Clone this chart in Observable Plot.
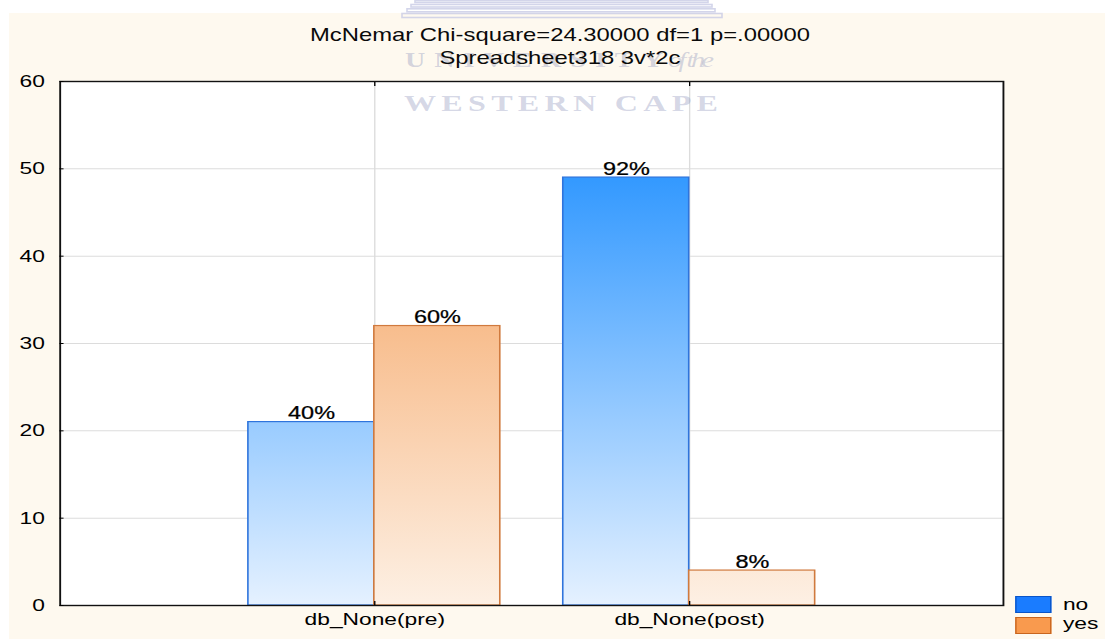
<!DOCTYPE html>
<html><head><meta charset="utf-8">
<script src="https://cdn.jsdelivr.net/npm/d3@7"></script>
<script src="https://cdn.jsdelivr.net/npm/@observablehq/plot@0.6"></script>
<style>
html,body{margin:0;padding:0;background:#fff;width:1105px;height:639px;overflow:hidden;font-family:"Liberation Sans",Arial,sans-serif;}
#chart{position:absolute;left:9px;top:13px;width:818px;height:626px;background:#fef9ef;transform-origin:0 0;}
#title{position:absolute;left:0;top:0;width:818px;height:55px;box-sizing:border-box;padding-top:10.5px;padding-left:4.4px;text-align:center;font-size:17.8px;line-height:23px;color:#0a0a0a;z-index:6;}
#plots{position:absolute;left:0;top:55px;width:818px;height:571px;}
#plots svg{position:absolute;left:0;top:0;}
#legend .sw{position:absolute;box-sizing:border-box;border:1.4px solid;}
#legend .lb{position:absolute;font-size:17px;line-height:17px;color:#000;white-space:nowrap;}
#wm{position:absolute;left:0;top:0;pointer-events:none;z-index:5;}
</style></head><body>
<div id="chart"><div id="plots"></div><div id="legend"></div></div>
<svg id="wm" width="1105" height="639"></svg>
<div id="titlewrap" style="position:absolute;left:9px;top:13px;width:818px;height:55px;transform-origin:0 0;z-index:6;"><div id="title"></div></div>
<script>
// ---- data ----
const categories = ["db_None(pre)", "db_None(post)"];
const series = ["no", "yes"];
const noValues = [21, 49];
const yesValues = [32, 4];
const noPercents = ["40%", "92%"];
const yesPercents = ["60%", "8%"];
const yTicks = [0, 10, 20, 30, 40, 50, 60];
const titleLines = ["McNemar Chi-square=24.30000 df=1 p=.00000", "Spreadsheet318 3v*2c"];
const watermarkTop = "UNIVERSITY";
const watermarkItalic = "of the";
const watermarkBottom = "WESTERN CAPE";

// ---- styles ----
const fillTop = {no: "#3399ff", yes: "#f5a25f"};
const fillBottom = {no: "#e5f1ff", yes: "#fdf0e4"};
const strokeColors = {no: "#2f74dc", yes: "#d07a3e"};
const legendFill = {no: "#1a7cff", yes: "#f99a4e"};
const legendStroke = {no: "#0a55c8", yes: "#c8651e"};

const S = 1096 / 818;
document.getElementById("chart").style.transform = `scale(${S},1)`;
document.getElementById("titlewrap").style.transform = `scale(${S},1)`;

document.getElementById("title").innerHTML = titleLines.map(t => `<div>${t}</div>`).join("");

const data = categories.flatMap((c, i) => [
  {cat: c, series: "no", value: noValues[i], pct: noPercents[i]},
  {cat: c, series: "yes", value: yesValues[i], pct: yesPercents[i]}
]);

const W = 818, H = 571;
const common = {
  width: W, height: H, marginTop: 13, marginBottom: 34, marginLeft: 37.7, marginRight: 76.3,
  style: {background: "transparent", overflow: "visible", fontFamily: "'Liberation Sans', Arial, sans-serif", fontSize: "17px", color: "#000"}
};
const band = {type: "band", domain: categories, paddingInner: 0, paddingOuter: 0.497};

const bottomLayer = Plot.plot({
  ...common,
  x: {...band, axis: null},
  y: {domain: [0, 60], axis: null},
  marks: [
    Plot.frame({fill: "white", stroke: "none"}),
    Plot.gridY(yTicks, {stroke: "#dcdcdc", strokeOpacity: 1}),
    Plot.gridX(categories, {stroke: "#dcdcdc", strokeOpacity: 1})
  ]
});

const midLayer = Plot.plot({
  ...common,
  fx: {...band, axis: null, label: null},
  x: {type: "band", domain: series, paddingInner: 0, paddingOuter: 0.25, axis: null},
  y: {domain: [0, 60], axis: null},
  marks: [
    ...series.map(s => Plot.barY(data.filter(d => d.series === s), {
      fx: "cat", x: "series", y: "value",
      fill: `url(#grad-${s})`, stroke: strokeColors[s], strokeWidth: 1.2
    })),
    Plot.text(data, {fx: "cat", x: "series", y: "value", text: "pct", lineAnchor: "bottom", dy: -3, fill: "#000", fontSize: 17.5, stroke: "#000", strokeWidth: 0.25})
  ]
});

const topLayer = Plot.plot({
  ...common,
  x: band,
  y: {domain: [0, 60]},
  marks: [
    Plot.frame({stroke: "#111", strokeWidth: 1.4}),
    Plot.axisY(yTicks, {tickSize: -3, tickPadding: 14.4, label: null}),
    Plot.axisX(categories, {anchor: "bottom", tickSize: -4, tickPadding: 11, label: null}),
    Plot.axisX(categories, {anchor: "top", tickSize: -4, tickFormat: () => "", label: null})
  ]
});

// gradients, in the y coordinates of the plot
const ys = midLayer.scale("y");
const yLo = ys.apply(0), yHi = ys.apply(d3.max([...noValues, ...yesValues]));
const defs = d3.select(midLayer).insert("defs", ":first-child");
series.forEach(s => {
  const g = defs.append("linearGradient").attr("id", `grad-${s}`)
    .attr("gradientUnits", "userSpaceOnUse").attr("x1", 0).attr("x2", 0).attr("y1", yLo).attr("y2", yHi);
  g.append("stop").attr("offset", 0).attr("stop-color", fillBottom[s]);
  g.append("stop").attr("offset", 1).attr("stop-color", fillTop[s]);
});

document.getElementById("plots").append(bottomLayer, midLayer, topLayer);

// legend
const legend = document.getElementById("legend");
const swTops = [583, 604.3], lbTops = [582.5, 602.3];
series.forEach((s, i) => {
  const sw = document.createElement("div");
  sw.className = "sw";
  Object.assign(sw.style, {left: "750.8px", top: swTops[i] + "px", width: "27.4px", height: "16.5px", background: legendFill[s], borderColor: legendStroke[s]});
  const lb = document.createElement("div");
  lb.className = "lb";
  lb.textContent = s;
  Object.assign(lb.style, {left: "786.6px", top: lbTops[i] + "px"});
  legend.append(sw, lb);
});

// faint watermark of the source document (stretched like the chart)
const wm = d3.select("#wm");
const logo = wm.append("g").attr("fill", "none").attr("stroke", "#c9cbe6").attr("stroke-width", 1.6).attr("opacity", 0.8);
[[415, 0.5, 293, 2], [411, 4.5, 301, 2.5], [407, 8.8, 308, 3], [402, 13.5, 320, 4]].forEach(([x, y, w, h]) =>
  logo.append("rect").attr("x", x).attr("y", y).attr("width", w).attr("height", h));
const wmText = wm.append("g").attr("transform", `scale(${S},1)`)
  .attr("fill", "#8890b8").attr("fill-opacity", 0.36).attr("font-weight", "bold")
  .attr("font-family", "'Liberation Serif', 'DejaVu Serif', serif");
wmText.append("text").attr("x", 405 / S).attr("y", 66.7).attr("font-size", 21).attr("textLength", 258 / S).attr("lengthAdjust", "spacing").text(watermarkTop);
wmText.append("text").attr("x", 668 / S).attr("y", 66.7).attr("font-size", 21).attr("font-weight", "normal").attr("font-style", "italic").attr("textLength", 46 / S).attr("lengthAdjust", "spacing").text(watermarkItalic);
wmText.append("text").attr("x", 404 / S).attr("y", 110.7).attr("font-size", 24).attr("textLength", 314 / S).attr("lengthAdjust", "spacing").text(watermarkBottom);
</script>
</body></html>
